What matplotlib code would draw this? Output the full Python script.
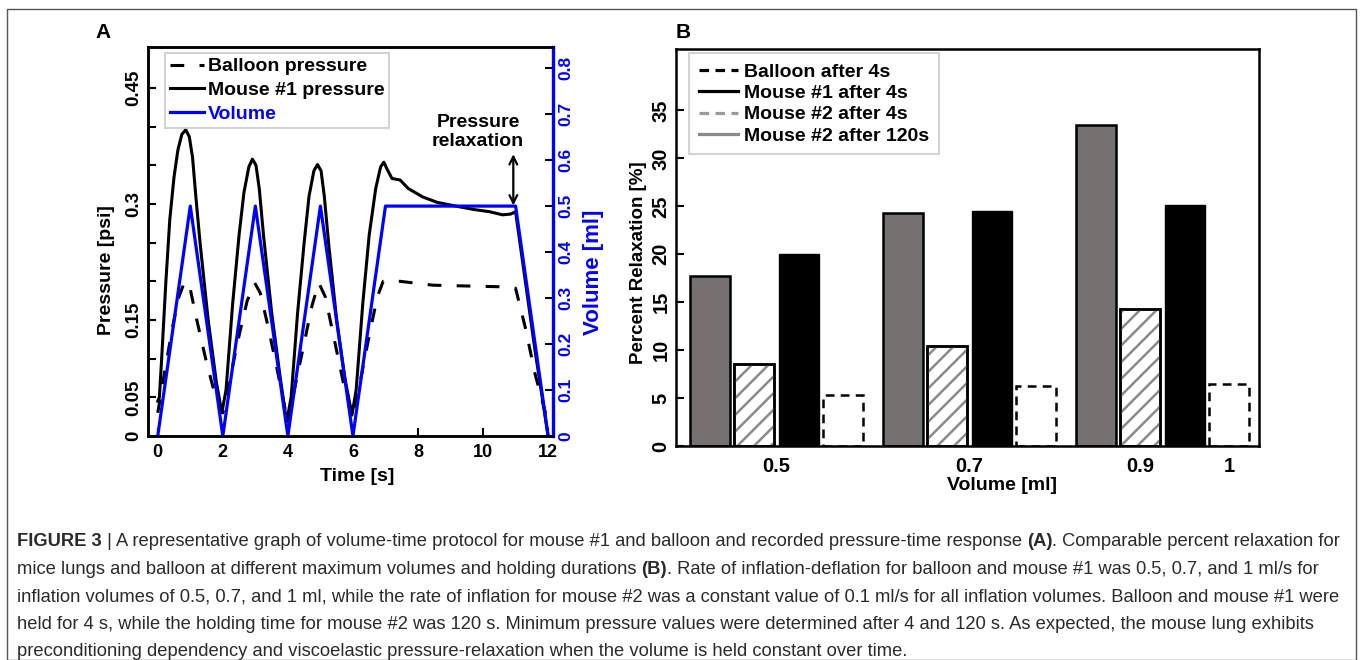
import numpy as np
import matplotlib
matplotlib.use('Agg')
import matplotlib.pyplot as plt
from matplotlib.lines import Line2D
from matplotlib import font_manager as fm
from matplotlib.patches import Rectangle

plt.rcParams['font.family'] = ['Liberation Sans', 'DejaVu Sans']
plt.rcParams['hatch.linewidth'] = 1.8

# ---------------- Panel A data ----------------
vol_time = [0, 1, 2, 3, 4, 5, 6, 7, 11, 12]
vol_ml = [0, 0.5, 0, 0.5, 0, 0.5, 0, 0.5, 0.5, 0]

mouse_time = [0.0, 0.05, 0.12, 0.25, 0.37, 0.5, 0.62, 0.74, 0.86, 0.97, 1.07, 1.17, 1.3, 1.55, 1.8, 1.97,
              2.1, 2.3, 2.5, 2.65, 2.8, 2.91, 3.02, 3.12, 3.25, 3.5, 3.75, 3.96,
              4.1, 4.3, 4.5, 4.65, 4.8, 4.91, 5.02, 5.12, 5.25, 5.5, 5.75, 5.97,
              6.1, 6.3, 6.5, 6.7, 6.85, 6.95, 7.05, 7.2, 7.45, 7.7, 8.15, 8.6, 9.2, 9.7,
              10.2, 10.6, 10.85, 11.0, 11.3, 11.6, 12.0]
mouse_psi = [0.045, 0.05, 0.10, 0.20, 0.28, 0.335, 0.37, 0.39, 0.396, 0.387, 0.36, 0.31, 0.25, 0.15, 0.07, 0.03,
             0.06, 0.17, 0.26, 0.315, 0.348, 0.358, 0.35, 0.32, 0.26, 0.16, 0.08, 0.018,
             0.05, 0.16, 0.25, 0.31, 0.343, 0.351, 0.343, 0.31, 0.25, 0.15, 0.075, 0.027,
             0.06, 0.17, 0.26, 0.32, 0.348, 0.354, 0.345, 0.333, 0.331, 0.32, 0.309, 0.302, 0.297, 0.293,
             0.29, 0.286, 0.287, 0.29, 0.2, 0.11, 0.0]

balloon_time = [0.0, 0.2, 0.45, 0.65, 0.83, 1.0, 1.2, 1.5, 1.75, 2.0,
                2.2, 2.5, 2.75, 2.98, 3.15, 3.4, 3.7, 4.0,
                4.2, 4.5, 4.75, 4.95, 5.15, 5.4, 5.7, 6.0,
                6.2, 6.5, 6.75, 6.93, 7.45, 8.46, 10.5, 11.0, 11.3, 11.6, 12.0]
balloon_psi = [0.03, 0.08, 0.14, 0.18, 0.2, 0.19, 0.15, 0.095, 0.055, 0.03,
               0.07, 0.13, 0.175, 0.198, 0.185, 0.14, 0.08, 0.017,
               0.06, 0.12, 0.17, 0.198, 0.18, 0.13, 0.07, 0.025,
               0.065, 0.13, 0.18, 0.2, 0.2, 0.195, 0.193, 0.191, 0.14, 0.08, 0.017]

pressure_ticks = [0, 0.05, 0.10, 0.15, 0.20, 0.25, 0.30, 0.35, 0.40, 0.45]
pressure_ticklabels = ['0', '0.05', '', '0.15', '', '', '0.3', '', '', '0.45']
volume_ticks = [0, 0.1, 0.2, 0.3, 0.4, 0.5, 0.6, 0.7, 0.8]
volume_ticklabels = ['0', '0.1', '0.2', '0.3', '0.4', '0.5', '0.6', '0.7', '0.8']
time_ticks = [0, 2, 4, 6, 8, 10, 12]

# ---------------- Panel B data ----------------
b_series = ['Mouse #2 after 120s', 'Mouse #2 after 4s', 'Mouse #1 after 4s', 'Balloon after 4s']
mouse2_120s = [17.7, 24.3, 33.5]
mouse2_4s = [8.5, 10.4, 14.3]
mouse1_4s = [20.0, 24.5, 25.1]
balloon_4s = [5.3, 6.3, 6.5]
b_ticklabels = ['0.5', '0.7', '0.9', '1']
b_yticks = [0, 5, 10, 15, 20, 25, 30, 35]

W, H = 1362, 660
fig = plt.figure(figsize=(W / 100, H / 100), dpi=100)

BLUE = '#0000ff'
GRAY = '#767070'

def ax_rect(x0, y0, x1, y1):
    return [x0 / W, 1 - y1 / H, (x1 - x0) / W, (y1 - y0) / H]

# ================= Panel A =================
axA = fig.add_axes(ax_rect(148, 47, 553, 436))
axA.plot(balloon_time, balloon_psi, color='black', lw=2.2, ls=(0, (4.5, 5)), label='Balloon pressure')
axA.plot(mouse_time, mouse_psi, color='black', lw=2.2, label='Mouse #1 pressure')
axA.set_xlim(-0.3, 12.15)
axA.set_ylim(0, 0.503)
axA.set_yticks(pressure_ticks)
axA.set_yticklabels(pressure_ticklabels)
axA.set_xticks(time_ticks)
axA.tick_params(axis='both', direction='in', length=6, width=1.5, colors='black')
axA.tick_params(axis='x', labelsize=13, pad=6)
axA.tick_params(axis='y', labelsize=13.5, labelrotation=90, pad=4)
for lab in axA.get_yticklabels():
    lab.set_fontweight('bold'); lab.set_va('center')
for lab in axA.get_xticklabels():
    lab.set_fontweight('bold')
for s in axA.spines.values():
    s.set_linewidth(1.8)
axA.set_xlabel('Time [s]', fontsize=14, fontweight='bold')
axA.xaxis.set_label_coords(0.516, -0.082)
axA.set_ylabel('Pressure [psi]', fontsize=14, fontweight='bold')
axA.yaxis.set_label_coords(-0.081, 0.427)

axV = axA.twinx()
axV.plot(vol_time, vol_ml, color=BLUE, lw=2.3, label='Volume')
axV.set_ylim(0, 0.846)
axV.set_yticks(volume_ticks)
axV.set_yticklabels(volume_ticklabels)
axV.tick_params(axis='y', direction='in', length=6, width=1.5, color='black', labelcolor=BLUE,
                labelsize=12.5, labelrotation=90, pad=4)
for lab in axV.get_yticklabels():
    lab.set_fontweight('bold'); lab.set_va('center')
for s in axV.spines.values():
    s.set_linewidth(1.8)
axV.spines['right'].set_color(BLUE)
axV.spines['right'].set_linewidth(2.4)
axV.set_ylabel('Volume [ml]', fontsize=16, fontweight='bold', color=BLUE)
axV.yaxis.set_label_coords(1.075, 0.42)

hA = [axA.get_lines()[0], axA.get_lines()[1], axV.get_lines()[0]]
legA = axV.legend(hA, [h.get_label() for h in hA], loc='upper left', bbox_to_anchor=(0.042, 0.985),
                  borderaxespad=0, frameon=True, fancybox=False, edgecolor='#c8c8c8',
                  prop={'weight': 'bold', 'size': 14}, handlelength=1.75, handletextpad=0.2,
                  labelspacing=0.32, borderpad=0.25)
legA.get_frame().set_linewidth(1.5)
legA.get_texts()[2].set_color(BLUE)

axV.annotate('', xy=(10.93, 0.2946 / 0.503 * 0.846), xytext=(10.93, 0.368 / 0.503 * 0.846),
             arrowprops=dict(arrowstyle='<->', color='black', lw=1.6, mutation_scale=14))
axV.text(9.85, 0.662, 'Pressure\nrelaxation', ha='center', va='center', fontsize=14,
         fontweight='bold', linespacing=1.15)

fig.text(103 / W, 1 - 33 / H, 'A', fontsize=15, fontweight='bold', ha='center', va='center')

# ================= Panel B =================
axB = fig.add_axes(ax_rect(676, 49, 1259, 446))
group_stride = 4.35
gpos = np.arange(3) * group_stride
bw = 0.9
axB.bar(gpos + 0, mouse2_120s, width=bw, color=GRAY, edgecolor='black', lw=1.8)
axB.bar(gpos + 1, mouse2_4s, width=bw, color='white', edgecolor='black', lw=1.8)
axB.bar(gpos + 1, mouse2_4s, width=bw, color='none', edgecolor='#8a8a8a', lw=0, hatch='//')
axB.bar(gpos + 1, mouse2_4s, width=bw, color='none', edgecolor='black', lw=1.8)
axB.bar(gpos + 2, mouse1_4s, width=bw, color='black', edgecolor='black', lw=1.0)
axB.bar(gpos + 3, balloon_4s, width=bw, color='white', edgecolor='black', lw=1.8, ls=(0, (3.5, 2.5)))
axB.set_xlim(-0.76, 12.37)
axB.set_ylim(0, 41.4)
axB.set_yticks(b_yticks)
b_tickpos = [gpos[0] + 1.5, gpos[1] + 1.5, gpos[2] + 1, gpos[2] + 3]
axB.set_xticks(b_tickpos)
axB.set_xticklabels(b_ticklabels)
axB.tick_params(axis='x', length=0, labelsize=14.5, pad=8)
axB.tick_params(axis='y', direction='in', length=6, width=1.5, labelsize=14.5, labelrotation=90, pad=4)
for lab in axB.get_yticklabels() + axB.get_xticklabels():
    lab.set_fontweight('bold')
for lab in axB.get_yticklabels():
    lab.set_va('center')
for s in axB.spines.values():
    s.set_linewidth(1.8)
axB.set_xlabel('Volume [ml]', fontsize=14, fontweight='bold')
axB.xaxis.set_label_coords(0.559, -0.079)
axB.set_ylabel('Percent Relaxation [%]', fontsize=13.5, fontweight='bold')
axB.yaxis.set_label_coords(-0.05, 0.461)

hB = [Line2D([], [], color='black', lw=2.3, ls=(0, (3, 2))),
      Line2D([], [], color='black', lw=2.3),
      Line2D([], [], color='#9a9a9a', lw=2.3, ls=(0, (3, 2))),
      Line2D([], [], color='#8a8a8a', lw=2.3)]
legB = axB.legend(hB, [b_series[3], b_series[2], b_series[1], b_series[0]], loc='upper left',
                  bbox_to_anchor=(0.023, 0.989), borderaxespad=0, frameon=True, fancybox=False,
                  edgecolor='#c8c8c8', prop={'weight': 'bold', 'size': 14}, handlelength=2.0,
                  handletextpad=0.3, labelspacing=0.19, borderpad=0.5)
legB.get_frame().set_linewidth(1.5)

fig.text(683 / W, 1 - 33 / H, 'B', fontsize=15, fontweight='bold', ha='center', va='center')

# ================= Frame and caption =================
fig.add_artist(Rectangle((7 / W, 0), (1356 - 7) / W, 1 - 9 / H, transform=fig.transFigure,
                         fill=False, edgecolor='#555555', lw=1.0))

cap_family = 'Liberation Sans'
for cand in ['Liberation Sans Narrow', 'Liberation Sans']:
    try:
        fm.findfont(fm.FontProperties(family=cand), fallback_to_default=False)
        cap_family = cand
        break
    except Exception:
        pass

caption = [
    [('FIGURE 3', True), (' | A representative graph of volume-time protocol for mouse #1 and balloon and recorded pressure-time response ', False),
     ('(A)', True), ('. Comparable percent relaxation for', False)],
    [('mice lungs and balloon at different maximum volumes and holding durations ', False), ('(B)', True),
     ('. Rate of inflation-deflation for balloon and mouse #1 was 0.5, 0.7, and 1 ml/s for', False)],
    [('inflation volumes of 0.5, 0.7, and 1 ml, while the rate of inflation for mouse #2 was a constant value of 0.1 ml/s for all inflation volumes. Balloon and mouse #1 were', False)],
    [('held for 4 s, while the holding time for mouse #2 was 120 s. Minimum pressure values were determined after 4 and 120 s. As expected, the mouse lung exhibits', False)],
    [('preconditioning dependency and viscoelastic pressure-relaxation when the volume is held constant over time.', False)],
]
line_centers = [540.0, 567.5, 595.0, 622.5, 649.5]

renderer = fig.canvas.get_renderer()

def line_width(pieces, size):
    total = 0
    for txt, bold in pieces:
        t = fig.text(0, 0, txt, fontsize=size, fontweight='bold' if bold else 'normal', family=cap_family)
        total += t.get_window_extent(renderer).width
        t.remove()
    return total

trial = 12
wtrial = line_width(caption[0], trial)
cap_size = trial * (1340 - 17) / wtrial

for pieces, yc in zip(caption, line_centers):
    x = 17
    for txt, bold in pieces:
        t = fig.text(x / W, 1 - (yc + 0.33 * cap_size * 100 / 72) / H, txt, fontsize=cap_size,
                     fontweight='bold' if bold else 'normal', family=cap_family, color='#2a2a2a',
                     ha='left', va='baseline')
        x += t.get_window_extent(renderer).width

fig.savefig('out.png', dpi=100)
